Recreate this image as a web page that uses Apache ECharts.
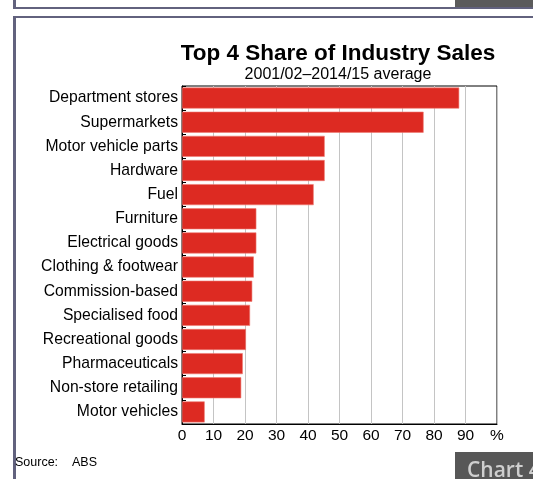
<!DOCTYPE html>
<html>
<head>
<meta charset="utf-8">
<style>
  html, body { margin: 0; padding: 0; background: #ffffff; }
  #chart { width: 533px; height: 479px; }
</style>
<script src="https://cdn.jsdelivr.net/npm/echarts@6/dist/echarts.min.js"></script>
</head>
<body>
<div id="chart"></div>
<script>
// Industries, top to bottom
const categories = [
  'Department stores', 'Supermarkets', 'Motor vehicle parts', 'Hardware', 'Fuel',
  'Furniture', 'Electrical goods', 'Clothing & footwear', 'Commission-based',
  'Specialised food', 'Recreational goods', 'Pharmaceuticals', 'Non-store retailing',
  'Motor vehicles'
];
// Share of sales held by the four largest firms, per cent
const shareValues = [88.0, 76.7, 45.3, 45.3, 41.8, 23.6, 23.6, 22.8, 22.3, 21.6, 20.3, 19.3, 18.8, 7.2];
const xTicks = [0, 10, 20, 30, 40, 50, 60, 70, 80, 90, 100];
const titleText = 'Top 4 Share of Industry Sales';
const subtitleText = '2001/02\u20132014/15 average';
const sourceText = 'Source:    ABS';

const FONT = '"Liberation Sans", Arial, sans-serif';
const FRAME = '#62627e';

const chart = echarts.init(document.getElementById('chart'), null, { renderer: 'canvas' });

chart.setOption({
  animation: false,
  backgroundColor: '#ffffff',
  title: {
    text: titleText,
    subtext: subtitleText,
    left: 333,
    textAlign: 'center',
    top: 37,
    itemGap: 2,
    textStyle: { fontFamily: FONT, fontSize: 22.5, fontWeight: 'bold', color: '#000' },
    subtextStyle: { fontFamily: FONT, fontSize: 16, color: '#000' }
  },
  grid: { left: 182, right: 36, top: 86, bottom: 55, show: true, borderColor: '#000', borderWidth: 1 },
  xAxis: {
    type: 'value',
    min: xTicks[0],
    max: xTicks[xTicks.length - 1],
    interval: 10,
    axisLine: { show: true, lineStyle: { color: '#000', width: 1 } },
    axisTick: { show: false },
    splitLine: { show: true, lineStyle: { color: '#c4c4c4', width: 1 } },
    axisLabel: {
      fontFamily: FONT, fontSize: 15.5, color: '#000', margin: 4,
      formatter: v => (v === 100 ? '%' : String(v))
    }
  },
  yAxis: {
    type: 'category',
    data: categories,
    inverse: true,
    axisLine: { show: true, lineStyle: { color: '#000', width: 1 } },
    axisTick: { show: true, inside: true, length: 4, lineStyle: { color: '#000' } },
    axisLabel: { fontFamily: FONT, fontSize: 15.7, color: '#000', margin: 4 }
  },
  series: [{
    type: 'bar',
    data: shareValues,
    barCategoryGap: '13%',
    itemStyle: { color: '#dd2a22', borderColor: '#ee7a72', borderWidth: 0.6 }
  }],
  graphic: [
    // panel above: bottom edge and tab
    { type: 'rect', shape: { x: 455, y: 0, width: 78, height: 7 }, style: { fill: '#5b5b5b' } },
    { type: 'rect', shape: { x: 13, y: 0, width: 3, height: 9 }, style: { fill: FRAME } },
    { type: 'rect', shape: { x: 13, y: 7, width: 520, height: 2 }, style: { fill: FRAME } },
    // this panel: top and left edges
    { type: 'rect', shape: { x: 13, y: 16, width: 520, height: 2 }, style: { fill: FRAME } },
    { type: 'rect', shape: { x: 13, y: 16, width: 3, height: 463 }, style: { fill: FRAME } },
    // source note
    { type: 'text', left: 15, top: 456, style: { text: sourceText, font: '12.5px ' + FONT, fill: '#000' } },
    // chart tab
    { type: 'rect', shape: { x: 455, y: 452, width: 78, height: 27 }, style: { fill: '#575757' } },
    { type: 'text', left: 467, top: 461, style: { text: 'Chart 4', font: '600 21px "Open Sans", ' + FONT, fill: '#cfcfcf' } }
  ]
});
</script>
</body>
</html>
